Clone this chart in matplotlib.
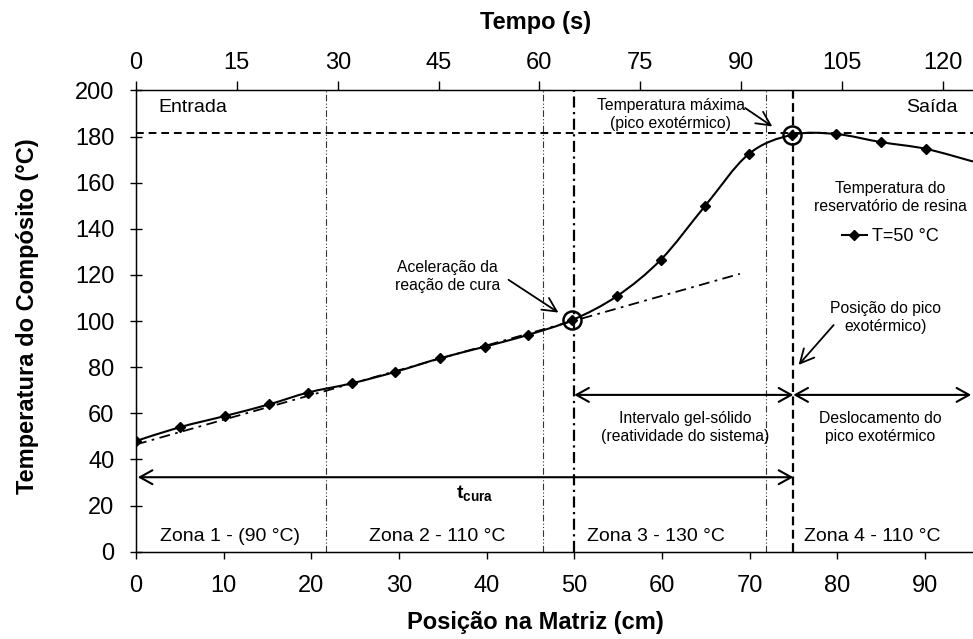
import matplotlib.pyplot as plt
from matplotlib.path import Path
from matplotlib.patches import PathPatch
from matplotlib.lines import Line2D

plt.rcParams['font.family'] = ['Liberation Sans', 'DejaVu Sans']
plt.rcParams['mathtext.fontset'] = 'custom'
plt.rcParams['mathtext.rm'] = 'Liberation Sans'
plt.rcParams['mathtext.bf'] = 'Liberation Sans:bold'

# dados
posicao = [0, 5.0, 10.2, 15.2, 19.6, 24.6, 29.6, 34.7, 39.8, 44.7, 49.8,
           54.9, 59.9, 64.9, 69.9, 74.9, 79.9, 85.0, 90.1, 95.5]
temperatura = [48.0, 54.0, 58.9, 63.9, 69.0, 73.0, 78.0, 83.9, 88.9, 94.0, 100.5,
               110.9, 126.7, 149.8, 172.4, 180.8, 181.1, 177.6, 174.7, 169.2]
n_marcadores = 19            # o ultimo ponto fica fora do recorte
pontos_circulados = [10, 15]

tangente_x = [0, 68.9]
tangente_y = [46.5, 120.5]
pico_temp = 181.5
limites_zonas = [21.65, 46.4, 71.9]
pos_gel = 50
pos_pico = 75

zonas = ['Zona 1 - (90 °C)', 'Zona 2 - 110 °C', 'Zona 3 - 130 °C', 'Zona 4 - 110 °C']
zonas_x = [10.7, 34.4, 59.3, 84.0]

ticks_pos = [0, 10, 20, 30, 40, 50, 60, 70, 80, 90]
ticks_tempo = [0, 15, 30, 45, 60, 75, 90, 105, 120]
ticks_temp = [0, 20, 40, 60, 80, 100, 120, 140, 160, 180, 200]


def curva_suave(xs, ys):
    """Bezier tipo Catmull-Rom (como a linha suavizada do Excel)."""
    pts = list(zip(xs, ys))
    verts = [pts[0]]
    codes = [Path.MOVETO]
    for i in range(len(pts) - 1):
        p0 = pts[i - 1] if i > 0 else pts[i]
        p1 = pts[i]
        p2 = pts[i + 1]
        p3 = pts[i + 2] if i + 2 < len(pts) else pts[i + 1]
        c1 = (p1[0] + (p2[0] - p0[0]) / 6, p1[1] + (p2[1] - p0[1]) / 6)
        c2 = (p2[0] - (p3[0] - p1[0]) / 6, p2[1] - (p3[1] - p1[1]) / 6)
        verts += [c1, c2, p2]
        codes += [Path.CURVE4] * 3
    return Path(verts, codes)


fig = plt.figure(figsize=(9.73, 6.39), dpi=100)
ax = fig.add_axes([0.1398, 0.1366, 0.8602, 0.7218])
ax.set_xlim(0, 95.5)
ax.set_ylim(0, 200)

# linhas de referencia
for xz in limites_zonas:
    ax.axvline(xz, color='#333333', lw=0.8, ls=(0, (6, 2, 1, 2, 1, 2)))
ax.axvline(pos_gel, color='black', lw=1.6, ls=(0, (5, 2, 1, 2)))
ax.axvline(pos_pico, color='black', lw=1.6, ls=(0, (4, 2)))
ax.axhline(pico_temp, color='black', lw=1.4, ls=(0, (4, 2.5)))

ax.plot(tangente_x, tangente_y, color='black', lw=1.3, ls=(0, (6, 3, 1.5, 3)))

# curva principal
ax.add_patch(PathPatch(curva_suave(posicao, temperatura), fill=False,
                       edgecolor='black', lw=1.5, zorder=4))
ax.plot(posicao[:n_marcadores], temperatura[:n_marcadores], 'D', color='black',
        ms=5.5, zorder=5)
ax.plot([posicao[i] for i in pontos_circulados],
        [temperatura[i] for i in pontos_circulados], 'o', mfc='none',
        mec='black', ms=13, mew=1.8, zorder=6)

# legenda
handle = Line2D([], [], color='black', lw=1.5, marker='D', ms=5.5)
ax.legend([handle], ['T=50 °C'], loc='center left', frameon=False,
          bbox_to_anchor=(80.5, 136.5), bbox_transform=ax.transData,
          borderaxespad=0, borderpad=0, handlelength=1.4, handletextpad=0.3,
          fontsize=13)

# textos
nota = dict(fontsize=11.3, ha='center', va='center', linespacing=1.25)
ax.text(2.5, 192.5, 'Entrada', fontsize=14, ha='left', va='center')
ax.text(93.8, 192.5, 'Saída', fontsize=14, ha='right', va='center')
ax.text(61.0, 189.8, 'Temperatura máxima\n(pico exotérmico)', **nota)
ax.text(35.5, 119.3, 'Aceleração da\nreação de cura', **nota)
ax.text(86.1, 153.5, 'Temperatura do\nreservatório de resina', **nota)
ax.text(85.5, 101.5, 'Posição do pico\nexotérmico)', **nota)
ax.text(62.7, 53.9, 'Intervalo gel-sólido\n(reatividade do sistema)', **nota)
ax.text(84.9, 53.9, 'Deslocamento do\npico exotérmico', **nota)
ax.text(38.6, 25.5, r'$\mathbf{t_{cura}}$', fontsize=14, ha='center', va='center')

for nome, xz in zip(zonas, zonas_x):
    ax.text(xz, 6.5, nome, fontsize=14, ha='center', va='center')

# setas
seta = dict(arrowstyle='->,head_length=0.5,head_width=0.25', color='black', lw=1.3,
            shrinkA=0, shrinkB=0, mutation_scale=20)
ax.annotate('', xy=(48.2, 103.7), xytext=(42.5, 117.9), arrowprops=seta)
ax.annotate('', xy=(72.6, 184.4), xytext=(69.5, 192.4), arrowprops=seta)
ax.annotate('', xy=(75.6, 81.0), xytext=(79.6, 98.3), arrowprops=seta)

dupla = dict(arrowstyle='<->,head_length=0.45,head_width=0.25', color='black',
             lw=1.5, shrinkA=0, shrinkB=0, mutation_scale=20)
ax.annotate('', xy=(pos_pico, 68.0), xytext=(pos_gel, 68.0), arrowprops=dupla)
ax.annotate('', xy=(95.3, 68.0), xytext=(pos_pico, 68.0), arrowprops=dupla)
ax.annotate('', xy=(pos_pico, 32.3), xytext=(0.2, 32.3), arrowprops=dupla)

# eixos
ax.set_xticks(ticks_pos)
ax.set_yticks(ticks_temp)
ax.tick_params(axis='x', direction='out', length=4.7, width=1, labelsize=17, pad=12)
ax.tick_params(axis='y', direction='inout', length=9, width=1, labelsize=17, pad=11)
ax.spines['right'].set_visible(False)
for s in ['left', 'bottom', 'top']:
    ax.spines[s].set_linewidth(1.0)

ax2 = ax.twiny()
ax2.set_xlim(0, 124.5)
ax2.set_xticks(ticks_tempo)
ax2.tick_params(axis='x', direction='out', length=6.2, width=1, labelsize=17, pad=6)
ax2.spines['right'].set_visible(False)

fig.text(536 / 973, 1 - 22 / 639, 'Tempo (s)', fontsize=17, fontweight='bold',
         ha='center', va='center')
fig.text(535 / 973, 1 - 623 / 639, 'Posição na Matriz (cm)', fontsize=17,
         fontweight='bold', ha='center', va='center')
fig.text(28 / 973, 1 - 316 / 639, 'Temperatura do Compósito (°C)', fontsize=17,
         fontweight='bold', ha='center', va='center', rotation=90)

fig.savefig('out.png', dpi=100)
